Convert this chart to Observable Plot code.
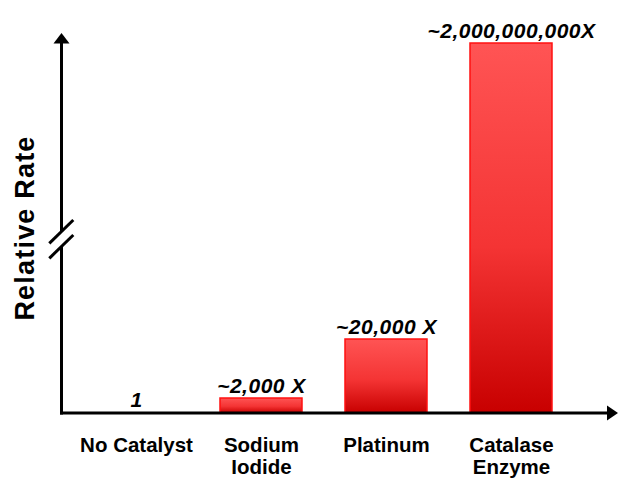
<!DOCTYPE html>
<html>
<head>
<meta charset="utf-8">
<script src="https://cdn.jsdelivr.net/npm/d3@7"></script>
<script src="https://cdn.jsdelivr.net/npm/@observablehq/plot@0.6"></script>
<style>
  html, body { margin: 0; padding: 0; background: #fff; }
  #chart svg { display: block; background: #fff; }
</style>
</head>
<body>
<div id="chart"></div>
<script>
// Catalysts compared and their decomposition rate relative to no catalyst
const catalysts = ["No Catalyst", "Sodium Iodide", "Platinum", "Catalase Enzyme"];
const tickLabels = ["No Catalyst", "Sodium\nIodide", "Platinum", "Catalase\nEnzyme"];
const relativeRates = [1, 2000, 20000, 2000000000];
const rateLabels = ["1", "~2,000 X", "~20,000 X", "~2,000,000,000X"];
const yTitle = "Relative Rate";

const data = catalysts.map((name, i) => ({
  name,
  tick: tickLabels[i],
  rate: relativeRates[i],
  label: rateLabels[i]
}));

const W = 619, H = 480;
const baseY = 413, topY = 43;
const font = "'Liberation Sans', Arial, Helvetica, sans-serif";

const plot = Plot.plot({
  width: W,
  height: H,
  marginLeft: 73.5,
  marginRight: 45.5,
  marginTop: topY,
  marginBottom: H - baseY,
  style: { fontFamily: font, background: "#fff", overflow: "visible" },
  x: { domain: catalysts, paddingInner: 0.344, paddingOuter: 0.172, axis: null },
  // broken axis: piecewise linear scale, compressed above the break
  y: { type: "linear", domain: [0, 2000, 20000, 2000000000], range: [baseY, 398, 339, topY], axis: null },
  marks: [
    Plot.barY(data, { x: "name", y: "rate", fill: "url(#barFill)", stroke: "#ff1010", strokeWidth: 1.5 }),
    Plot.text(data, {
      x: "name", y: "rate", text: "label",
      lineAnchor: "bottom", dy: -6,
      fontSize: 21, fontWeight: "bold", fontStyle: "italic", fill: "#000"
    }),
    Plot.text(data, {
      x: "name", text: "tick", frameAnchor: "bottom",
      lineAnchor: "top", dy: 22, lineHeight: 1.1,
      fontSize: 20.5, fontWeight: "bold", fill: "#000"
    })
  ]
});

const svg = d3.select(plot);

// vertical gradient used by the bars
const grad = svg.insert("defs", ":first-child")
  .append("linearGradient")
  .attr("id", "barFill")
  .attr("x1", 0).attr("y1", 0).attr("x2", 0).attr("y2", 1);
grad.append("stop").attr("offset", "0%").attr("stop-color", "#ff5454");
grad.append("stop").attr("offset", "55%").attr("stop-color", "#f43434");
grad.append("stop").attr("offset", "100%").attr("stop-color", "#c80000");

// value labels get a little extra letter spacing
svg.selectAll("text").filter(function () { return this.getAttribute("font-style") === "italic" || this.parentNode.getAttribute("font-style") === "italic"; })
  .attr("letter-spacing", "0.5px");

// axes with arrowheads
const axisX = 61.5;
const g = svg.append("g").attr("stroke", "#000").attr("fill", "#000");
const breakTop = 231.5, breakBottom = 246.5;
g.append("line").attr("x1", axisX).attr("x2", axisX).attr("y1", 42).attr("y2", breakTop).attr("stroke-width", 3);
g.append("line").attr("x1", axisX).attr("x2", axisX).attr("y1", breakBottom).attr("y2", baseY + 1.5).attr("stroke-width", 3);
g.append("line").attr("x1", 60).attr("x2", 608).attr("y1", baseY).attr("y2", baseY).attr("stroke-width", 3);
g.append("path").attr("stroke", "none").attr("d", `M${axisX},33 L${axisX - 8},43.5 L${axisX + 8},43.5 Z`);
g.append("path").attr("stroke", "none").attr("d", `M618,${baseY} L607,${baseY - 7.5} L607,${baseY + 7.5} Z`);

// axis break slashes
[[49.3, 243.3, 73.3, 220], [49.3, 258.3, 73.3, 235]].forEach(([x1, y1, x2, y2]) => {
  g.append("line").attr("x1", x1).attr("y1", y1).attr("x2", x2).attr("y2", y2).attr("stroke-width", 3);
});

// y-axis title
svg.append("text")
  .attr("transform", "translate(34,228) rotate(-90)")
  .attr("text-anchor", "middle")
  .attr("font-family", font)
  .attr("font-size", 27)
  .attr("font-weight", "bold")
  .attr("letter-spacing", "1.2px")
  .attr("fill", "#000")
  .text(yTitle);

document.getElementById("chart").appendChild(plot);
</script>
</body>
</html>
